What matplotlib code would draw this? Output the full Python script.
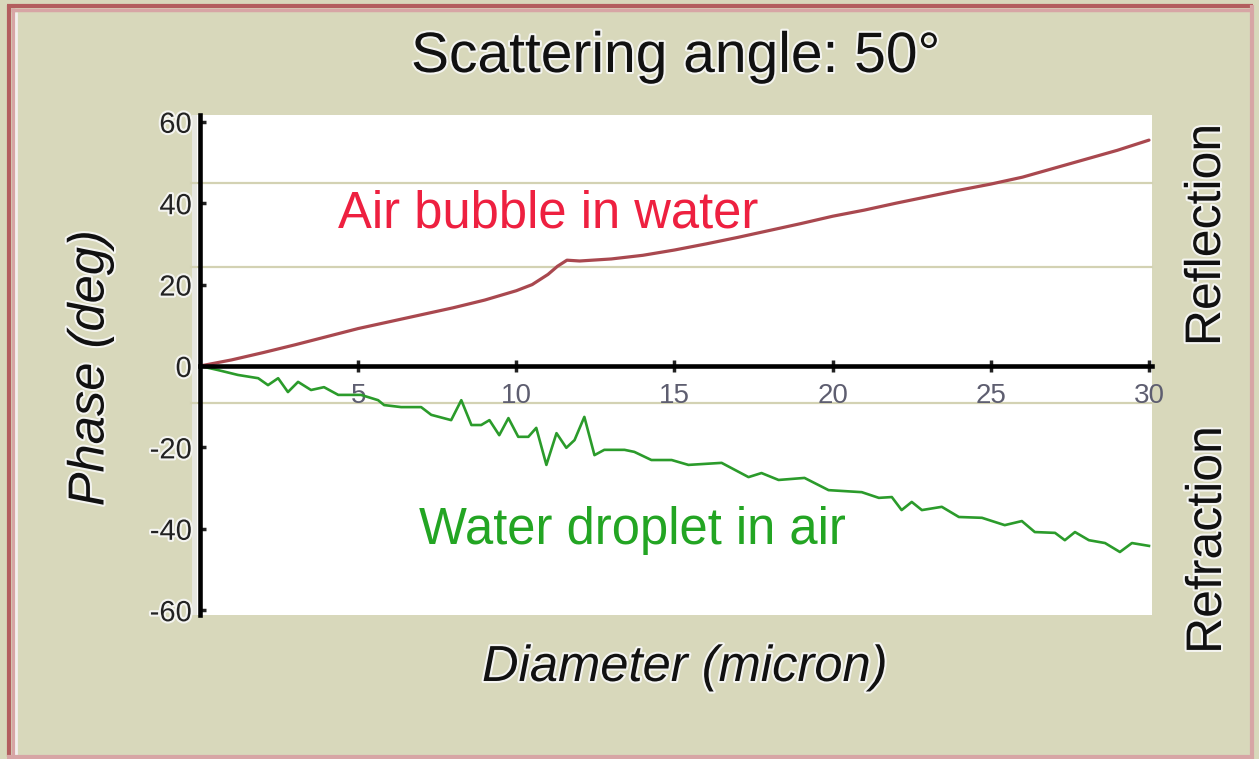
import matplotlib
matplotlib.use("Agg")
import matplotlib.pyplot as plt
import matplotlib.patheffects as pe
from matplotlib.patches import Rectangle

plt.rcParams['font.family'] = ['Liberation Sans', 'DejaVu Sans']

# ---- data ----
bubble_x = [0, 1, 2, 3, 4, 5, 6, 7, 8, 9, 10, 10.5, 11, 11.3, 11.6, 12, 13, 14, 15,
            16, 17, 18, 19, 20, 21, 22, 23, 24, 25, 26, 27, 28, 29, 30]
bubble_y = [0, 1.5, 3.3, 5.2, 7.2, 9.2, 10.9, 12.6, 14.3, 16.2, 18.5, 20.0, 22.5, 24.5, 26.0,
            25.8, 26.3, 27.2, 28.5, 30.0, 31.6, 33.3, 35.0, 36.8, 38.3, 40.0, 41.6, 43.2,
            44.7, 46.4, 48.6, 50.8, 53.0, 55.5]

droplet_x = [0, 0.57, 1.2, 1.84, 2.15, 2.47, 2.78, 3.1, 3.51, 3.92, 4.37, 5.09, 5.63, 5.82,
             6.36, 6.99, 7.31, 7.94, 8.26, 8.58, 8.89, 9.15, 9.46, 9.75, 10.06, 10.38, 10.63,
             10.95, 11.27, 11.58, 11.84, 12.15, 12.47, 12.78, 13.42, 13.73, 14.27, 14.91,
             15.44, 16.49, 17.34, 17.75, 18.29, 19.11, 19.87, 20.92, 21.46, 21.87, 22.18,
             22.5, 22.82, 23.45, 23.99, 24.72, 25.44, 25.98, 26.39, 27.03, 27.34, 27.66,
             28.1, 28.61, 29.08, 29.46, 30.0]
droplet_y = [0, -1, -2.2, -3, -4.7, -3, -6.4, -3.9, -5.9, -5.2, -7.1, -7.1, -8.4, -9.6,
             -10.1, -10.1, -12, -13.3, -8.4, -14.5, -14.5, -13.3, -17, -12.8, -17.4, -17.4,
             -15.2, -24.3, -16.5, -20.1, -18.2, -12.5, -21.9, -20.6, -20.6, -21.1, -23.1,
             -23.1, -24.3, -23.8, -27.3, -26.3, -28, -27.5, -30.5, -31, -32.4, -32.2, -35.4,
             -33.4, -35.4, -34.6, -37.1, -37.3, -39.1, -38.1, -40.8, -41, -42.8, -40.8,
             -42.8, -43.5, -45.7, -43.5, -44.2]

x_ticks = [5, 10, 15, 20, 25, 30]
y_ticks = [60, 40, 20, 0, -20, -40, -60]
grid_levels = [45, 24.3, -9.1]

W, H = 1259, 759
fig = plt.figure(figsize=(W / 100, H / 100), dpi=100)
fig.patch.set_facecolor('#d8d8bb')

# background overlay in pixel coordinates
bg = fig.add_axes([0, 0, 1, 1], zorder=0)
bg.set_xlim(0, W)
bg.set_ylim(H, 0)
bg.axis('off')
bg.add_patch(Rectangle((192, 115), 960, 500, facecolor='white', edgecolor='none'))
bg.add_patch(Rectangle((192, 115), 5, 500, facecolor='#e6e6e0', edgecolor='none'))
# frame
bg.plot([9, 9], [5, 757], color='#b35e5e', lw=3.0, solid_capstyle='butt')
bg.plot([7, 1253], [5.5, 5.5], color='#b35e5e', lw=3.0, solid_capstyle='butt')
bg.plot([13, 13], [8, 757], color='#d7a5a5', lw=2.5, solid_capstyle='butt')
bg.plot([11, 1253], [9.5, 9.5], color='#d7a5a5', lw=2.5, solid_capstyle='butt')
bg.plot([16.5, 16.5], [12, 757], color='#f4eeee', lw=2.0, solid_capstyle='butt')
bg.plot([7, 1253], [757, 757], color='#d7a5a5', lw=3.0, solid_capstyle='butt')
bg.plot([1252, 1252], [5, 759], color='#d7a5a5', lw=3.0, solid_capstyle='butt')

# main axes
left_px, right_px = 200, 1152
top_px, bot_px = 115, 615
ax = fig.add_axes([left_px / W, 1 - bot_px / H, (right_px - left_px) / W, (bot_px - top_px) / H],
                  zorder=1)
ax.set_facecolor('none')
ppu_x = (1148 - 199) / 30.0
ax.set_xlim(0, (right_px - left_px) / ppu_x)
ppu_y = 4.07
ax.set_ylim(-(bot_px - 366) / ppu_y, (366 - top_px) / ppu_y)

for g in grid_levels:
    ax.axhline(g, xmin=-0.009, xmax=1.0, color='#d3d2b3', lw=1.6, zorder=1, clip_on=False)

ax.plot(bubble_x, bubble_y, color='#a9484f', lw=2.3, zorder=3, solid_capstyle='round')
ax.plot(droplet_x, droplet_y, color='#2b9b2b', lw=1.9, zorder=3, solid_joinstyle='round')

ax.spines['top'].set_visible(False)
ax.spines['right'].set_visible(False)
ax.spines['bottom'].set_position(('data', 0))
ax.spines['bottom'].set_linewidth(3.3)
ax.spines['left'].set_linewidth(3.3)
ax.spines['bottom'].set_zorder(4)
ax.spines['left'].set_zorder(4)

halo = [pe.withStroke(linewidth=3, foreground='#f4f4f0')]
ax.set_xticks(x_ticks)
ax.set_xticklabels([str(v) for v in x_ticks], fontsize=20, color='#5e5e70')
ax.tick_params(axis='x', direction='inout', length=9, width=2.5, pad=8, color='#222222')
ax.set_yticks(y_ticks)
ax.set_yticklabels([str(v) for v in y_ticks], fontsize=21, color='#222222')
ax.tick_params(axis='y', direction='in', length=4, width=2.5, pad=6, color='#222222')
for lbl in ax.get_yticklabels():
    lbl.set_path_effects(halo)

# texts in pixel coordinates
bg.text(676, 72, 'Scattering angle: 50°', fontsize=41, color='#111111', ha='center', va='baseline',
        path_effects=halo)
bg.text(338, 228, 'Air bubble in water', fontsize=36.5, color='#ee2040', ha='left', va='baseline',
        zorder=5)
bg.text(419, 544, 'Water droplet in air', fontsize=36.5, color='#23a523', ha='left', va='baseline',
        zorder=5)
bg.text(90, 368, 'Phase (deg)', fontsize=36.5, style='italic', color='#111111', rotation=90,
        ha='center', va='center', path_effects=halo)
bg.text(685, 681, 'Diameter (micron)', fontsize=36.5, style='italic', color='#111111',
        ha='center', va='baseline', path_effects=halo)
bg.text(1207, 235, 'Reflection', fontsize=36, color='#111111', rotation=90,
        ha='center', va='center', path_effects=halo)
bg.text(1208, 540, 'Refraction', fontsize=36, color='#111111', rotation=90,
        ha='center', va='center', path_effects=halo)

fig.savefig('out.png', dpi=100, facecolor=fig.get_facecolor())
